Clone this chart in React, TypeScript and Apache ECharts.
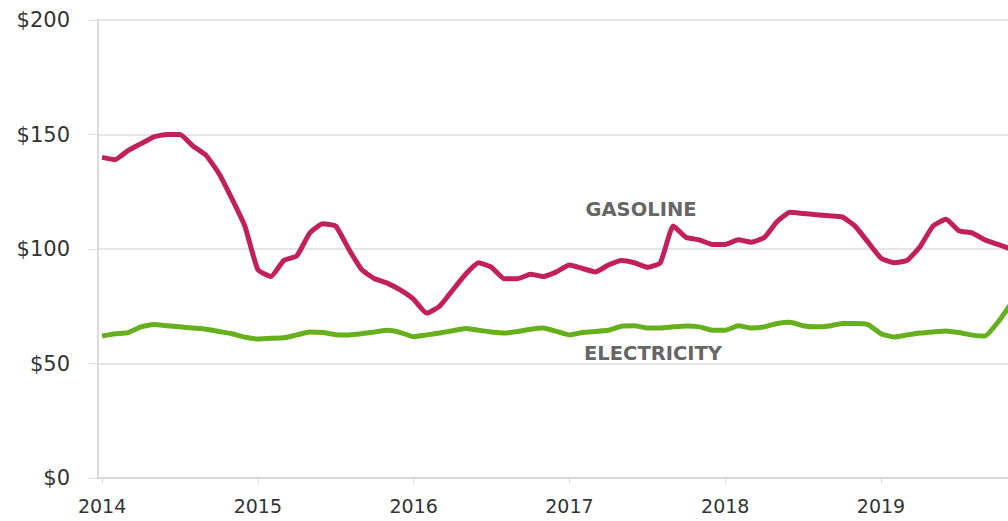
import React, { useEffect, useRef } from "react";
import * as echarts from "echarts";

const startYear = 2014;
const yearTicks = [2014, 2015, 2016, 2017, 2018, 2019];
const yTicks = [0, 50, 100, 150, 200];

// Monthly values, Jan 2014 .. Nov 2019
const gasoline = [
  140, 139, 143, 146, 149, 150, 150, 145, 141, 133, 122, 110,
  91, 88, 95, 97, 107, 111, 110, 100, 91, 87, 85, 82,
  78, 72, 75, 82, 89, 94, 92, 87, 87, 89, 88, 90,
  93, 91.5, 90, 93, 95, 94, 92, 94, 110, 105, 104, 102,
  102, 104, 103, 105, 112, 116, 115.5, 115, 114.5, 114, 110, 103,
  96, 94, 95, 101, 110, 113, 108, 107, 104, 102, 100,
];
const electricity = [
  62, 63, 63.5, 66, 67, 66.5, 66, 65.5, 65, 64, 63, 61.5,
  60.7, 61, 61.2, 62.5, 63.8, 63.5, 62.6, 62.5, 63, 63.8, 64.5, 63.5,
  61.7, 62.5, 63.3, 64.3, 65.3, 64.5, 63.8, 63.3, 64, 65, 65.5, 64,
  62.5, 63.5, 64, 64.5, 66.3, 66.5, 65.5, 65.5, 66, 66.4, 66, 64.5,
  64.5, 66.5, 65.5, 66, 67.5, 68, 66.5, 66, 66.4, 67.5, 67.5, 67,
  63, 61.6, 62.5, 63.3, 63.8, 64.2, 63.5, 62.4, 62, 68, 76,
];

const toPairs = (arr: number[]) => arr.map((v, i) => [startYear + i / 12, v]);

export default function App() {
  const ref = useRef<HTMLDivElement>(null);
  useEffect(() => {
    if (!ref.current) return;
    const chart = echarts.init(ref.current, null, { renderer: "svg" });
    const font = "DejaVu Sans";
    chart.setOption({
      animation: false,
      backgroundColor: "#ffffff",
      grid: { left: 98, right: 0, top: 20, bottom: 43 },
      xAxis: {
        type: "value",
        min: 2013.974,
        max: 2019.815,
        axisLine: { show: true, lineStyle: { color: "#d8d8d8", width: 2 } },
        axisTick: {
          show: true,
          customValues: yearTicks,
          length: 5,
          lineStyle: { color: "#d8d8d8" },
        },
        axisLabel: {
          customValues: yearTicks,
          formatter: (v: number) => String(Math.round(v)),
          color: "#333333",
          fontFamily: font,
          fontSize: 19,
          margin: 18,
        },
        splitLine: { show: false },
      },
      yAxis: {
        type: "value",
        min: 0,
        max: 200,
        interval: 50,
        axisLine: { show: true, lineStyle: { color: "#dcdcdc", width: 2 } },
        axisTick: { show: true, length: 9, lineStyle: { color: "#dcdcdc" } },
        axisLabel: {
          formatter: (v: number) => "$" + v,
          color: "#333333",
          fontFamily: font,
          fontSize: 21,
          margin: 28,
          customValues: yTicks,
        },
        splitLine: { show: true, lineStyle: { color: "#dcdcdc", width: 1.5 } },
      },
      series: [
        {
          name: "Gasoline",
          type: "line",
          data: toPairs(gasoline),
          showSymbol: false,
          smooth: 0.15,
          lineStyle: { color: "#C2205A", width: 5 },
          itemStyle: { color: "#C2205A" },
          clip: true,
        },
        {
          name: "Electricity",
          type: "line",
          data: toPairs(electricity),
          showSymbol: false,
          smooth: 0.15,
          lineStyle: { color: "#66B01E", width: 5 },
          itemStyle: { color: "#66B01E" },
          clip: true,
        },
      ],
      graphic: [
        {
          type: "text",
          x: 641,
          y: 209,
          style: {
            text: "GASOLINE",
            fill: "#666666",
            font: `bold 19.5px "${font}"`,
            textAlign: "center",
            textVerticalAlign: "middle",
          },
        },
        {
          type: "text",
          x: 653,
          y: 353,
          style: {
            text: "ELECTRICITY",
            fill: "#666666",
            font: `bold 19.5px "${font}"`,
            textAlign: "center",
            textVerticalAlign: "middle",
          },
        },
      ],
    });
    return () => chart.dispose();
  }, []);
  return (
    <div
      ref={ref}
      style={{ position: "fixed", left: 0, top: 0, width: 1008, height: 521 }}
    />
  );
}
